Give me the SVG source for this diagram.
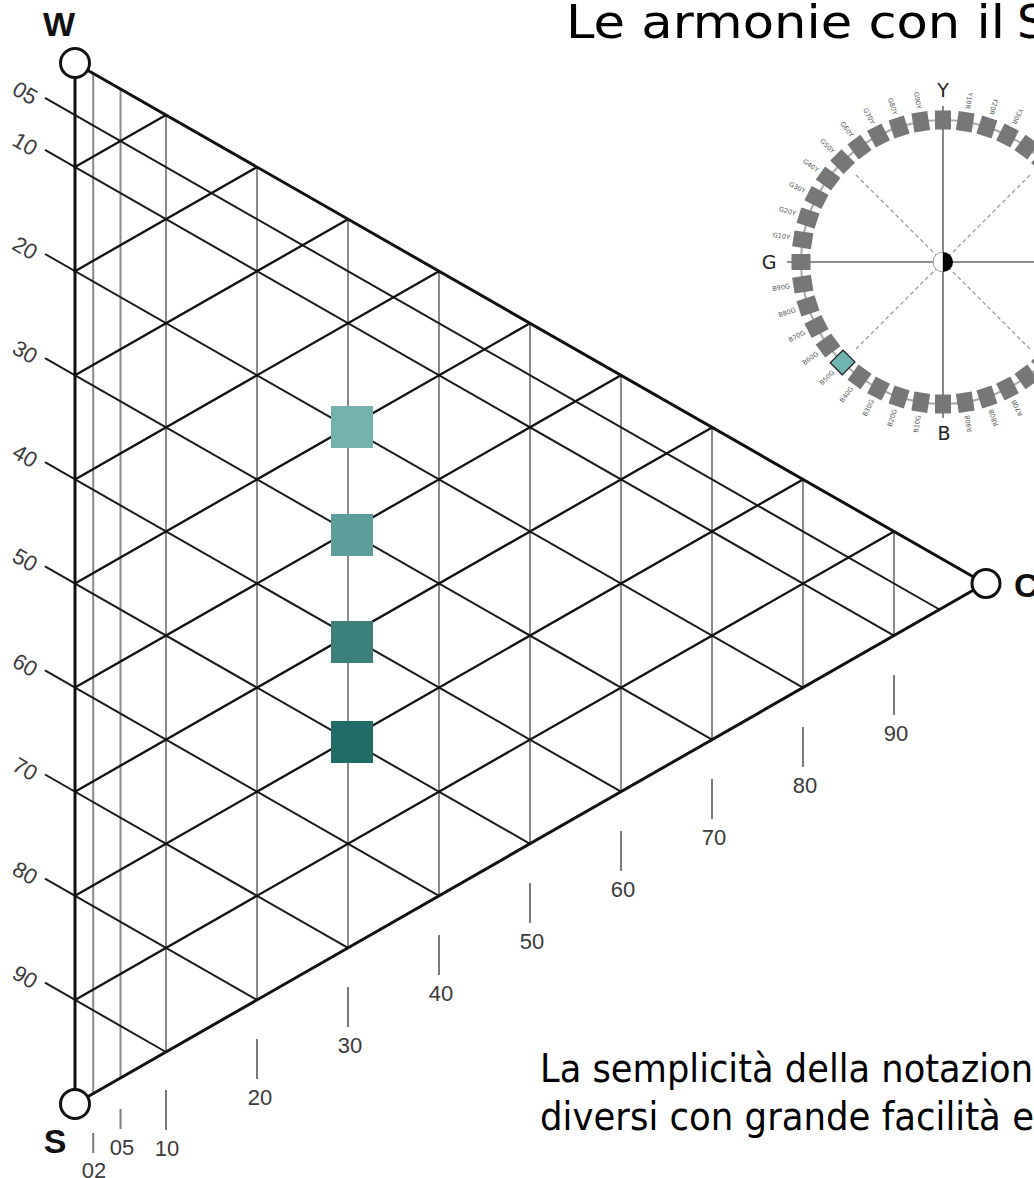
<svg xmlns="http://www.w3.org/2000/svg" width="1034" height="1178" viewBox="0 0 1034 1178">
<defs>
<style>
.edge{stroke:#111;stroke-width:3;fill:none;stroke-linecap:round}
.vl{stroke:#8a8a8a;stroke-width:2;fill:none}
.dl{stroke:#1a1a1a;stroke-width:2;fill:none}
.wl{stroke:#111;stroke-width:2.3;fill:none}
.tick{stroke:#7a7a7a;stroke-width:2}
.num{font-family:"Liberation Sans",Arial,sans-serif;font-size:22px;fill:#3a3a3a;text-anchor:middle;dominant-baseline:central}
.vtx{font-family:"Liberation Sans",Arial,sans-serif;font-size:34px;font-weight:bold;fill:#111;dominant-baseline:central}
.vc{fill:#fff;stroke:#111;stroke-width:3}
.txt{font-family:"DejaVu Sans","Liberation Sans",sans-serif;fill:#000}
.sq{fill:#777}
.lab{font-family:"DejaVu Sans","Liberation Sans",sans-serif;font-size:6.5px;fill:#555;text-anchor:end;dominant-baseline:central}
.hue{font-family:"DejaVu Sans","Liberation Sans",sans-serif;font-size:19px;fill:#222;text-anchor:middle;dominant-baseline:central}
.axis{stroke:#6a6a6a;stroke-width:1.6}
.dash{stroke:#9a9a9a;stroke-width:1.3;stroke-dasharray:4 3}
</style>
</defs>
<rect width="1034" height="1178" fill="#fff"/>

<text class="txt" font-size="47"><tspan x="566" y="38" textLength="439" lengthAdjust="spacingAndGlyphs">Le armonie con il</tspan><tspan x="1017" y="38">S</tspan></text>

<g id="connectors">
<g id="chroma-lines">
<line class="vl" x1="93.2" y1="73.4" x2="93.2" y2="1093.6"/>
<line class="vl" x1="120.5" y1="89" x2="120.5" y2="1078"/>
<line class="vl" x1="166" y1="115.1" x2="166" y2="1052"/>
<line class="vl" x1="257" y1="167.1" x2="257" y2="999.9"/>
<line class="vl" x1="348" y1="219.2" x2="348" y2="947.9"/>
<line class="vl" x1="439" y1="271.2" x2="439" y2="895.8"/>
<line class="vl" x1="530" y1="323.3" x2="530" y2="843.8"/>
<line class="vl" x1="621" y1="375.3" x2="621" y2="791.7"/>
<line class="vl" x1="712" y1="427.4" x2="712" y2="739.7"/>
<line class="vl" x1="803" y1="479.4" x2="803" y2="687.6"/>
<line class="vl" x1="894" y1="531.5" x2="894" y2="635.6"/>
</g>
<g id="blackness-lines">
<line class="dl" x1="45" y1="97.9" x2="939.5" y2="609.5"/>
<line class="dl" x1="45" y1="149.9" x2="894" y2="635.6"/>
<line class="dl" x1="45" y1="254" x2="803" y2="687.6"/>
<line class="dl" x1="45" y1="358.1" x2="712" y2="739.7"/>
<line class="dl" x1="45" y1="462.2" x2="621" y2="791.7"/>
<line class="dl" x1="45" y1="566.3" x2="530" y2="843.8"/>
<line class="dl" x1="45" y1="670.4" x2="439" y2="895.8"/>
<line class="dl" x1="45" y1="774.5" x2="348" y2="947.9"/>
<line class="dl" x1="45" y1="878.6" x2="257" y2="999.9"/>
<line class="dl" x1="45" y1="982.7" x2="166" y2="1052"/>
</g>
<g id="whiteness-lines">
<line class="wl" x1="75" y1="999.9" x2="894" y2="531.5"/>
<line class="wl" x1="75" y1="895.8" x2="803" y2="479.4"/>
<line class="wl" x1="75" y1="791.7" x2="712" y2="427.4"/>
<line class="wl" x1="75" y1="687.6" x2="621" y2="375.3"/>
<line class="wl" x1="75" y1="583.5" x2="530" y2="323.3"/>
<line class="wl" x1="75" y1="479.4" x2="439" y2="271.2"/>
<line class="wl" x1="75" y1="375.3" x2="348" y2="219.2"/>
<line class="wl" x1="75" y1="271.2" x2="257" y2="167.1"/>
<line class="wl" x1="75" y1="167.1" x2="166" y2="115.1"/>
</g>
<g id="edges">
<line class="edge" x1="75" y1="63" x2="75" y2="1104"/>
<line class="edge" x1="75" y1="63" x2="985" y2="583.5"/>
<line class="edge" x1="75" y1="1104" x2="985" y2="583.5"/>
</g>
<g id="ticks">
<line class="tick" x1="93.2" y1="1133" x2="93.2" y2="1153"/>
<line class="tick" x1="120.5" y1="1109" x2="120.5" y2="1129"/>
<line class="tick" x1="166" y1="1090" x2="166" y2="1130"/>
<line class="tick" x1="257" y1="1039" x2="257" y2="1079"/>
<line class="tick" x1="348" y1="987" x2="348" y2="1027"/>
<line class="tick" x1="439" y1="935" x2="439" y2="975"/>
<line class="tick" x1="530" y1="883" x2="530" y2="923"/>
<line class="tick" x1="621" y1="831" x2="621" y2="871"/>
<line class="tick" x1="712" y1="779" x2="712" y2="819"/>
<line class="tick" x1="803" y1="727" x2="803" y2="767"/>
<line class="tick" x1="894" y1="675" x2="894" y2="715"/>
</g>
</g>

<g id="vertex-W"><circle class="vc" cx="75" cy="63" r="14.5"/><text class="vtx" x="59" y="24" text-anchor="middle">W</text></g>
<g id="vertex-S"><circle class="vc" cx="75" cy="1104" r="14.5"/><text class="vtx" x="55" y="1141" text-anchor="middle">S</text></g>
<g id="vertex-C"><circle class="vc" cx="986" cy="583.5" r="14"/><text class="vtx" x="1014" y="585">C</text></g>

<g id="blackness-labels">
<text class="num" transform="translate(25 93) rotate(30)">05</text>
<text class="num" transform="translate(25 144) rotate(30)">10</text>
<text class="num" transform="translate(25 248) rotate(30)">20</text>
<text class="num" transform="translate(25 352) rotate(30)">30</text>
<text class="num" transform="translate(25 456) rotate(30)">40</text>
<text class="num" transform="translate(25 560) rotate(30)">50</text>
<text class="num" transform="translate(25 665) rotate(30)">60</text>
<text class="num" transform="translate(25 769) rotate(30)">70</text>
<text class="num" transform="translate(25 873) rotate(30)">80</text>
<text class="num" transform="translate(25 977) rotate(30)">90</text>
</g>
<g id="chroma-labels">
<text class="num" x="94" y="1170">02</text>
<text class="num" x="122" y="1147">05</text>
<text class="num" x="167" y="1148">10</text>
<text class="num" x="260" y="1097">20</text>
<text class="num" x="350" y="1045">30</text>
<text class="num" x="441" y="993">40</text>
<text class="num" x="532" y="941">50</text>
<text class="num" x="623" y="889">60</text>
<text class="num" x="714" y="837">70</text>
<text class="num" x="805" y="785">80</text>
<text class="num" x="896" y="733">90</text>
</g>

<g id="samples">
<rect id="sample-1" x="331" y="406" width="42" height="42" fill="#74b0ac"/>
<rect id="sample-2" x="331" y="514" width="42" height="42" fill="#5e9e9a"/>
<rect id="sample-3" x="331" y="621" width="42" height="42" fill="#3c807b"/>
<rect id="sample-4" x="331" y="721" width="42" height="42" fill="#216c67"/>
</g>

<g id="hue-circle">
<circle cx="943" cy="262" r="142" fill="none" stroke="#a8a8a8" stroke-width="2"/>
<line class="axis" x1="787" y1="262" x2="1099" y2="262"/>
<line class="axis" x1="943" y1="106" x2="943" y2="418"/>
<line class="dash" x1="943" y1="262" x2="854" y2="173"/>
<line class="dash" x1="943" y1="262" x2="1032" y2="173"/>
<line class="dash" x1="943" y1="262" x2="854" y2="351"/>
<line class="dash" x1="943" y1="262" x2="1032" y2="351"/>
<g transform="translate(943 262)">
<rect class="sq" x="132.5" y="-8" width="19" height="16" transform="rotate(-90)"/>
<rect class="sq" x="132.5" y="-8" width="19" height="16" transform="rotate(-99)"/>
<rect class="sq" x="132.5" y="-8" width="19" height="16" transform="rotate(-108)"/>
<rect class="sq" x="132.5" y="-8" width="19" height="16" transform="rotate(-117)"/>
<rect class="sq" x="132.5" y="-8" width="19" height="16" transform="rotate(-126)"/>
<rect class="sq" x="132.5" y="-8" width="19" height="16" transform="rotate(-135)"/>
<rect class="sq" x="132.5" y="-8" width="19" height="16" transform="rotate(-144)"/>
<rect class="sq" x="132.5" y="-8" width="19" height="16" transform="rotate(-153)"/>
<rect class="sq" x="132.5" y="-8" width="19" height="16" transform="rotate(-162)"/>
<rect class="sq" x="132.5" y="-8" width="19" height="16" transform="rotate(-171)"/>
<rect class="sq" x="132.5" y="-8" width="19" height="16" transform="rotate(180)"/>
<rect class="sq" x="132.5" y="-8" width="19" height="16" transform="rotate(171)"/>
<rect class="sq" x="132.5" y="-8" width="19" height="16" transform="rotate(162)"/>
<rect class="sq" x="132.5" y="-8" width="19" height="16" transform="rotate(153)"/>
<rect class="sq" x="132.5" y="-8" width="19" height="16" transform="rotate(144)"/>
<rect x="133" y="-8.5" width="18" height="17" transform="rotate(135)" fill="#6fb4ae" stroke="#1a1a1a" stroke-width="1.2"/>
<rect class="sq" x="132.5" y="-8" width="19" height="16" transform="rotate(126)"/>
<rect class="sq" x="132.5" y="-8" width="19" height="16" transform="rotate(117)"/>
<rect class="sq" x="132.5" y="-8" width="19" height="16" transform="rotate(108)"/>
<rect class="sq" x="132.5" y="-8" width="19" height="16" transform="rotate(99)"/>
<rect class="sq" x="132.5" y="-8" width="19" height="16" transform="rotate(90)"/>
<rect class="sq" x="132.5" y="-8" width="19" height="16" transform="rotate(81)"/>
<rect class="sq" x="132.5" y="-8" width="19" height="16" transform="rotate(72)"/>
<rect class="sq" x="132.5" y="-8" width="19" height="16" transform="rotate(63)"/>
<rect class="sq" x="132.5" y="-8" width="19" height="16" transform="rotate(54)"/>
<rect class="sq" x="132.5" y="-8" width="19" height="16" transform="rotate(45)"/>
<rect class="sq" x="132.5" y="-8" width="19" height="16" transform="rotate(-45)"/>
<rect class="sq" x="132.5" y="-8" width="19" height="16" transform="rotate(-54)"/>
<rect class="sq" x="132.5" y="-8" width="19" height="16" transform="rotate(-63)"/>
<rect class="sq" x="132.5" y="-8" width="19" height="16" transform="rotate(-72)"/>
<rect class="sq" x="132.5" y="-8" width="19" height="16" transform="rotate(-81)"/>

<text class="lab" transform="rotate(-99) translate(155 0) rotate(180)">G90Y</text>
<text class="lab" transform="rotate(-108) translate(155 0) rotate(180)">G80Y</text>
<text class="lab" transform="rotate(-117) translate(155 0) rotate(180)">G70Y</text>
<text class="lab" transform="rotate(-126) translate(155 0) rotate(180)">G60Y</text>
<text class="lab" transform="rotate(-135) translate(155 0) rotate(180)">G50Y</text>
<text class="lab" transform="rotate(-144) translate(155 0) rotate(180)">G40Y</text>
<text class="lab" transform="rotate(-153) translate(155 0) rotate(180)">G30Y</text>
<text class="lab" transform="rotate(-162) translate(155 0) rotate(180)">G20Y</text>
<text class="lab" transform="rotate(-171) translate(155 0) rotate(180)">G10Y</text>
<text class="lab" transform="rotate(171) translate(155 0) rotate(180)">B90G</text>
<text class="lab" transform="rotate(162) translate(155 0) rotate(180)">B80G</text>
<text class="lab" transform="rotate(153) translate(155 0) rotate(180)">B70G</text>
<text class="lab" transform="rotate(144) translate(155 0) rotate(180)">B60G</text>
<text class="lab" transform="rotate(135) translate(155 0) rotate(180)">B50G</text>
<text class="lab" transform="rotate(126) translate(155 0) rotate(180)">B40G</text>
<text class="lab" transform="rotate(117) translate(155 0) rotate(180)">B30G</text>
<text class="lab" transform="rotate(108) translate(155 0) rotate(180)">B20G</text>
<text class="lab" transform="rotate(99) translate(155 0) rotate(180)">B10G</text>
<text class="lab" transform="rotate(81) translate(155 0) rotate(180)">R90B</text>
<text class="lab" transform="rotate(72) translate(155 0) rotate(180)">R80B</text>
<text class="lab" transform="rotate(63) translate(155 0) rotate(180)">R70B</text>
<text class="lab" transform="rotate(-81) translate(155 0) rotate(180)">Y10R</text>
<text class="lab" transform="rotate(-72) translate(155 0) rotate(180)">Y20R</text>
<text class="lab" transform="rotate(-63) translate(155 0) rotate(180)">Y30R</text>
</g>
<path d="M943,252 A10,10 0 0,0 943,272 Z" fill="#fff" stroke="#999" stroke-width="1"/>
<path d="M943,252 A10,10 0 0,1 943,272 Z" fill="#000"/>
<text class="hue" x="943" y="90">Y</text>
<text class="hue" x="769" y="262">G</text>
<text class="hue" x="944" y="433">B</text>
</g>

<text class="txt" font-size="39" x="540" y="1082" textLength="493" lengthAdjust="spacingAndGlyphs">La semplicità della notazion</text>
<text class="txt" font-size="39" x="540" y="1130" textLength="494" lengthAdjust="spacingAndGlyphs">diversi con grande facilità e</text>
</svg>
